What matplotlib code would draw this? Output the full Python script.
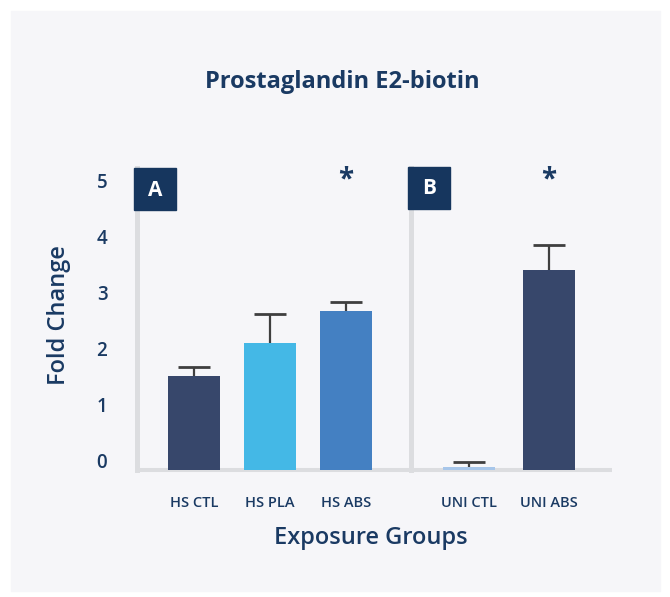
import matplotlib
matplotlib.use("Agg")
import matplotlib.pyplot as plt
import matplotlib.patches as mpatches
from matplotlib.transforms import ScaledTranslation

# ── Data ──────────────────────────────────────────────────────────────────────
GROUPS_A = ["HS CTL", "HS PLA", "HS ABS"]
VALUES_A = [1.67, 2.26, 2.83]
ERRORS_A = [0.17, 0.52, 0.16]

GROUPS_B = ["UNI CTL", "UNI ABS"]
VALUES_B = [0.05, 3.57]
ERRORS_B = [0.09, 0.45]

SIG_A = [False, False, True]
SIG_B = [False, True]

Y_TICKS = [0, 1, 2, 3, 4, 5]

# ── Style ─────────────────────────────────────────────────────────────────────
plt.rcParams.update({
    "font.family": ["Open Sans", "DejaVu Sans"],
})

NAVY      = "#1a3a63"
BOX_COLOR = "#16365e"
AXIS_GRAY = "#dcdde0"
ERR_COLOR = "#3f3f3f"
PANEL_BG  = "#f6f6f9"
COLORS_A  = ["#37476b", "#44b8e6", "#4480c2"]
COLORS_B  = ["#a7c6ea", "#37476b"]

W, H = 670, 597
YMAX = 5.39


def fx(px):
    return px / W


def fy(py):
    return 1 - py / H


fig = plt.figure(figsize=(W / 100, H / 100), dpi=100)
fig.patch.set_facecolor("white")
fig.patches.append(mpatches.Rectangle((fx(11), fy(591)), fx(660) - fx(11), fy(11) - fy(591),
                                      transform=fig.transFigure, color=PANEL_BG, zorder=-1))

bottom_px, top_px = 470, 168
ax_a = fig.add_axes([fx(136.5), fy(bottom_px), fx(410.5) - fx(136.5), fy(top_px) - fy(bottom_px)])
ax_b = fig.add_axes([fx(410.5), fy(bottom_px), fx(612) - fx(410.5), fy(top_px) - fy(bottom_px)])


def draw_panel(ax, groups, values, errors, colors, sig, width, xlim):
    pos = list(range(len(groups)))
    ax.bar(pos, values, width=width, color=colors, zorder=3)
    # upper-only error bars: stem + single cap at the top
    ax.errorbar(pos, values, yerr=[[0] * len(errors), errors], fmt="none",
                ecolor=ERR_COLOR, elinewidth=1.6, capsize=0, zorder=2)
    tops = [v + e for v, e in zip(values, errors)]
    ax.plot(pos, tops, ls="none", marker="_", markersize=23, markeredgewidth=2.0,
            color=ERR_COLOR, zorder=4)
    for p, s in zip(pos, sig):
        if s:
            ax.text(p, 5.18, "*", ha="center", va="center", fontsize=20,
                    fontweight="bold", color=NAVY)
    ax.set_xlim(xlim)
    ax.set_ylim(0, YMAX)
    ax.set_facecolor("none")
    ax.set_xticks(pos)
    ax.set_xticklabels(groups, fontsize=10.5, fontweight="semibold", color=NAVY)
    ax.tick_params(axis="x", length=0, pad=19)
    for sp in ("top", "right"):
        ax.spines[sp].set_visible(False)
    ax.spines["bottom"].set_color(AXIS_GRAY)
    ax.spines["bottom"].set_linewidth(2.9)
    ax.spines["bottom"].set_capstyle("butt")
    ax.spines["left"].set_color(AXIS_GRAY)
    ax.spines["left"].set_linewidth(3.6)
    ax.spines["left"].set_zorder(1)
    ax.spines["bottom"].set_zorder(1)


draw_panel(ax_a, GROUPS_A, VALUES_A, ERRORS_A, COLORS_A, SIG_A, 52 / 76, (-57.5 / 76, 216.5 / 76))
draw_panel(ax_b, GROUPS_B, VALUES_B, ERRORS_B, COLORS_B, SIG_B, 52 / 80, (-58.5 / 80, 143 / 80))

ax_a.set_yticks(Y_TICKS)
ax_a.set_yticklabels([str(t) for t in Y_TICKS], fontsize=13.5, fontweight="semibold", color=NAVY)
ax_a.tick_params(axis="y", length=0, pad=21)
shift = ScaledTranslation(0, 9 / 100, fig.dpi_scale_trans)
for lbl in ax_a.get_yticklabels():
    lbl.set_transform(lbl.get_transform() + shift)
ax_b.set_yticks([])

# panel letters
for (x0, y0), letter in [((134, 168), "A"), ((408, 167), "B")]:
    fig.patches.append(mpatches.Rectangle((fx(x0), fy(y0 + 42)), fx(42), 42 / H,
                                          transform=fig.transFigure, color=BOX_COLOR, zorder=5))
    fig.text(fx(x0 + 21), fy(y0 + 22), letter, ha="center", va="center", fontsize=15,
             fontweight="bold", color="white", zorder=6)

fig.text(fx(342), fy(82), "Prostaglandin E2-biotin", ha="center", va="center",
         fontsize=17, fontweight="bold", color=NAVY)
fig.text(fx(59), fy(315), "Fold Change", ha="center", va="center", rotation=90,
         fontsize=17, fontweight="semibold", color=NAVY)
fig.text(fx(371), fy(538), "Exposure Groups", ha="center", va="center",
         fontsize=17, fontweight="semibold", color=NAVY)

fig.savefig("out.png", dpi=100, facecolor=fig.get_facecolor())
